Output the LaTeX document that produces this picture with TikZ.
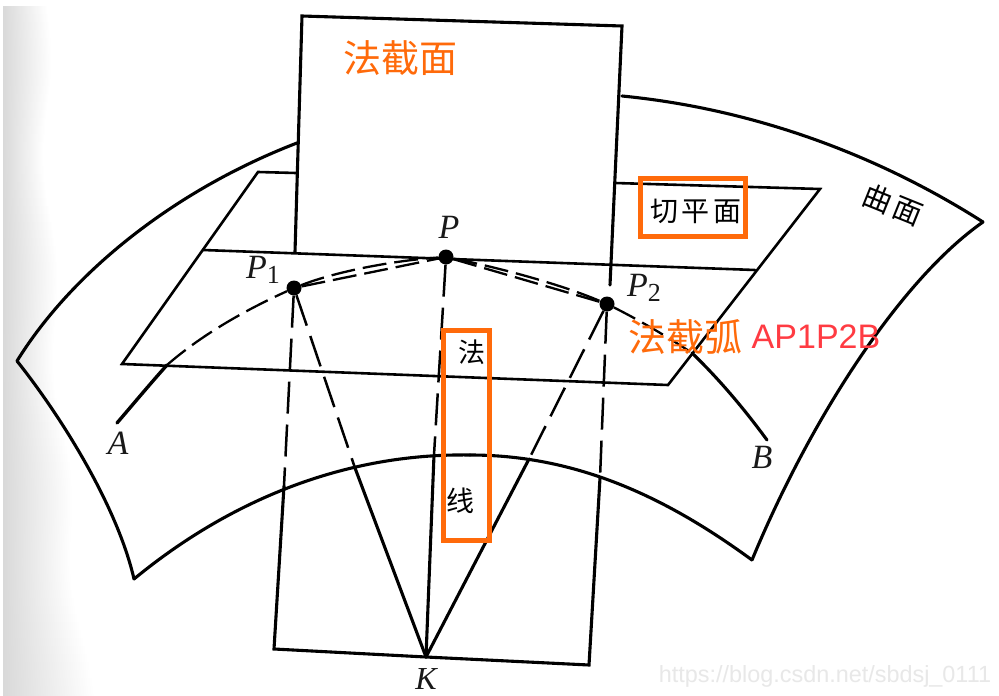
\documentclass[tikz,border=0pt]{standalone}
\usepackage{fontspec}
\setmainfont{Liberation Serif}
\setsansfont{Liberation Sans}
\newfontfamily\cjk{Noto Sans CJK SC}
\newfontfamily\cjkwide[LetterSpace=15]{Noto Sans CJK SC}
\newcommand{\pxf}[1]{\fontsize{#1}{#1}\selectfont}
\definecolor{markorange}{HTML}{FF6A0A}
\definecolor{markred}{HTML}{FF3B42}
\definecolor{scanshade}{gray}{0.85}
\tikzset{
  inkline/.style={draw=black,line width=3.1pt,line cap=round,line join=miter},
  fineline/.style={draw=black,line width=2.6pt,line cap=round,line join=miter},
  dashline/.style={draw=black,line width=2.5pt,dash pattern=on 32pt off 11pt},
  arcdash/.style={draw=black,line width=2.3pt,dash pattern=on 24pt off 8pt},
  markbox/.style={draw=markorange,line width=5pt,line join=miter},
  dot/.style={circle,fill=black,inner sep=0pt,minimum size=15pt},
  ptlabel/.style={inner sep=0pt,font=\itshape\pxf{34},text=black!90},
  blacktext/.style={inner sep=0pt,font=\cjk\pxf{27},text=black},
  orangetext/.style={inner sep=0pt,font=\cjk\pxf{38},text=markorange}
}
\begin{document}
\begin{tikzpicture}[x=1pt,y=-1pt]
\useasboundingbox (0,0) rectangle (999,696);
\fill[white] (0,0) rectangle (999,696);
% scanned page shadow, widening towards the foot of the page
\foreach \yy in {6,14,...,694}{
  \pgfmathsetmacro{\ww}{46+44*(\yy/696)^2+5*sin(\yy*1.7)}
  \pgfmathsetmacro{\ye}{\yy+8.4}
  \shade[left color=scanshade,right color=white,shading angle=90] (3,\yy) rectangle (\ww,\ye);
}
\fill[white] (0,696) rectangle (999,700);
% points
\node[dot] (P1) at (294,288) {};
\node[dot] (P) at (446,257) {};
\node[dot] (P2) at (607,304) {};
\coordinate (K) at (426,657);
\coordinate (A) at (117,423);
\coordinate (B) at (767,440);
\coordinate (NTL) at (302,16);
\coordinate (NTR) at (622,26);
\coordinate (NBL) at (274,649);
\coordinate (NBR) at (589,665);
\coordinate (LeftBreak) at (284,486);
\coordinate (RightBreak) at (600,478);
\coordinate (MidBreak) at (434,455);
\coordinate (KL) at (355,468);
\coordinate (KR) at (529,459);
\coordinate (SL) at (17,361);
\coordinate (SBL) at (134,579);
\coordinate (SBR) at (752,560);
\coordinate (SR) at (983,222);
\coordinate (ST1) at (297,143);
\coordinate (ST2) at (622,96);
\coordinate (TTL) at (258,172);
\coordinate (TTR) at (820,189);
\coordinate (TBR) at (668,385);
\coordinate (TBL) at (122,364);
\coordinate (HL) at (203,250);
\coordinate (HR) at (755,270);
\coordinate (SBM) at (470,455);
% surface
\draw[inkline] (SL) .. controls (72,272) and (175,190) .. (ST1);
\draw[inkline] (ST2) .. controls (745,108) and (870,150) .. (SR);
\draw[inkline] (SR) .. controls (900,280) and (810,420) .. (SBR);
\draw[inkline] (SBL) .. controls (117,505) and (60,415) .. (SL);
\draw[inkline] (SBL) .. controls (230,500) and (345,453) .. (SBM);
\draw[inkline] (SBM) .. controls (580,455) and (670,500) .. (SBR);
% tangent plane
\draw[fineline] (296,173) -- (TTL) -- (TBL) -- (TBR) -- (TTR) -- (615,183);
\draw[fineline] (HL) -- (HR);
% normal section
\draw[inkline] (LeftBreak) -- (NBL) -- (K) -- (NBR) -- (RightBreak);
\draw[inkline] (295,252) -- (NTL) -- (NTR) -- (610,285);
\draw[dashline] (P1) -- (LeftBreak);
\draw[dashline] (P2) -- (RightBreak);
% normals to K
\draw[dashline] (P) -- (MidBreak);
\draw[inkline] (MidBreak) -- (K);
\draw[dashline] (P1) -- (KL);
\draw[inkline] (KL) -- (K);
\draw[dashline] (P2) -- (KR);
\draw[inkline] (KR) -- (K);
% arc A P1 P P2 B
\draw[inkline,line width=3.4pt] (A) .. controls (135,402) and (150,384) .. (167,365);
\draw[arcdash] (167,365) .. controls (205,332) and (250,308) .. (P1);
\draw[arcdash] (P1) .. controls (340,270) and (400,260) .. (P);
\draw[arcdash] (P1) -- (P);
\draw[arcdash] (P) .. controls (500,268) and (560,284) .. (P2);
\draw[arcdash] (P) -- (P2);
\draw[arcdash] (P2) .. controls (635,318) and (665,335) .. (692,353);
\draw[inkline] (692,353) .. controls (720,380) and (745,410) .. (B);
% labels
\node[ptlabel] (LP1) at (263,270) {P\raisebox{-5pt}{\upshape\pxf{26}1}};
\node[ptlabel] (LP) at (449,227) {P};
\node[ptlabel] (LP2) at (644,288) {P\raisebox{-5pt}{\upshape\pxf{26}2}};
\node[ptlabel] (LA) at (118,443) {A};
\node[ptlabel] (LB) at (762,457) {B};
\node[ptlabel,font=\itshape\pxf{32}] (LK) at (426,679) {K};
\node[blacktext,rotate=-22,font=\cjkwide\pxf{29}] (Lsurf) at (893,205) {曲面};
\node[blacktext,font=\cjk\pxf{28}] (Ltan) at (696,211) {切\kern4pt 平\kern4pt 面};
\node[blacktext] (Lfa) at (472,352) {法};
\node[blacktext,font=\cjk\pxf{28}] (Lxian) at (460,501) {线};
\node[orangetext] (Lsec) at (400,58) {法截面};
\node[orangetext] (Larc) at (685,337) {法截弧};
\node[inner sep=0pt,font=\sffamily\pxf{34},text=markred] (Lname) at (816,337) {AP1P2B};
\node[inner sep=0pt,font=\sffamily\pxf{23.4},text=black!9] (Lmark) at (825,676) {https://blog.csdn.net/sbdsj\_0111};
% marker boxes
\draw[markbox] (640.5,178.5) rectangle (745.5,236.5);
\draw[markbox] (443.5,330.5) rectangle (489.5,540.5);
\end{tikzpicture}
\end{document}
